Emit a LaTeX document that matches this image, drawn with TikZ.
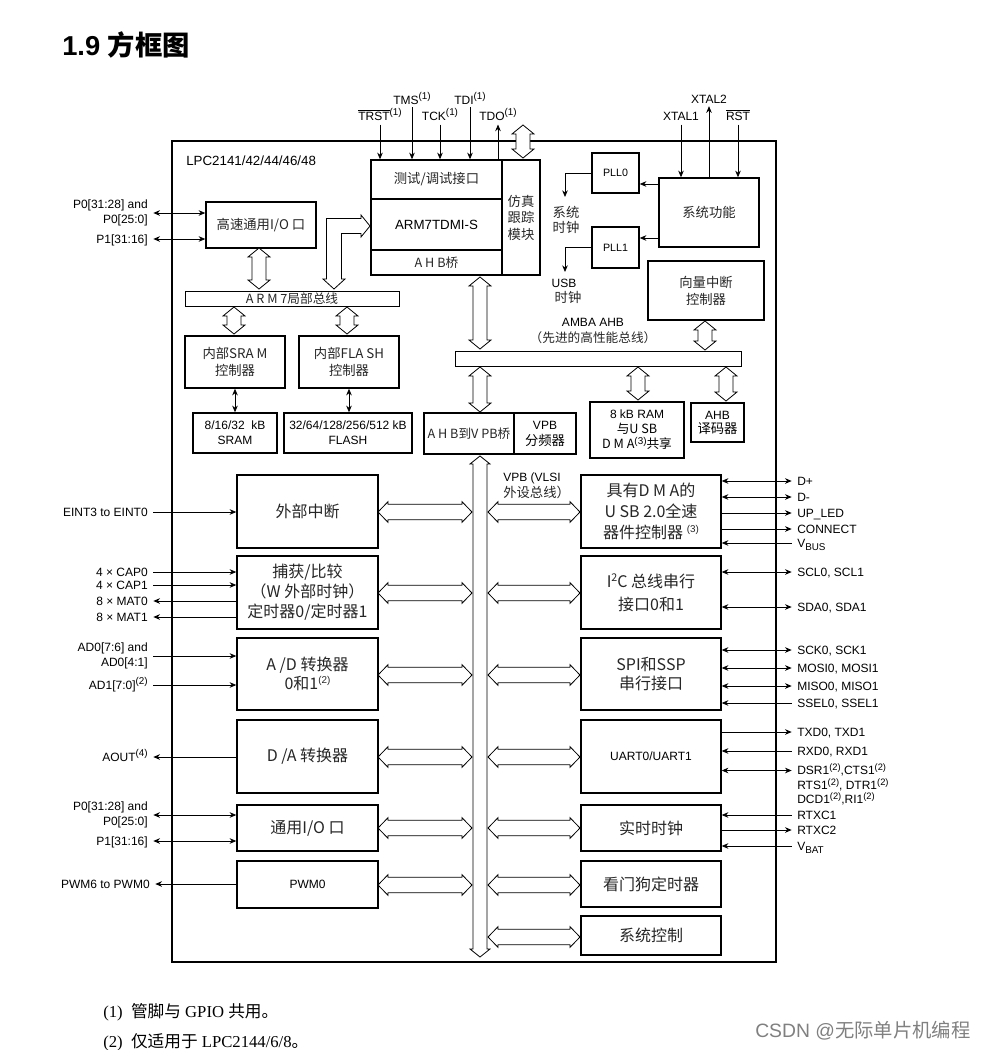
\documentclass[tikz,border=0pt]{standalone}
\usepackage{fontspec}
\setmainfont{Liberation Sans}
\newfontfamily\cjk{Noto Sans CJK SC}
\newfontfamily\tms{Liberation Serif}
\usetikzlibrary{arrows.meta,fit}
\newcommand\cjs{\cjk\fontsize{10}{12.5}\selectfont}
\newcommand\cjsm{\cjk\fontsize{9.5}{11.25}\selectfont}
\newcommand\sps[1]{\raisebox{0.4em}{\normalfont\fontsize{7.4}{7.5}\selectfont #1}}
\newcommand\spt[1]{\raisebox{0.33em}{\normalfont\fontsize{7}{7}\selectfont #1}}
\newcommand\sbs[1]{\raisebox{-0.28em}{\normalfont\fontsize{7.4}{7.5}\selectfont #1}}
\newcommand\VArr[3]{\draw[hol] (#1,#2) -- (#1+11,#2+9) -- (#1+7,#2+9) -- (#1+7,#3-9) -- (#1+11,#3-9) -- (#1,#3) -- (#1-11,#3-9) -- (#1-7,#3-9) -- (#1-7,#2+9) -- (#1-11,#2+9) -- cycle;}
\newcommand\HArr[3]{\draw[hol] (#1,#3) -- (#1+10,#3-10.3) -- (#1+10,#3-7.8) -- (#2-10,#3-7.8) -- (#2-10,#3-10.3) -- (#2,#3) -- (#2-10,#3+10.3) -- (#2-10,#3+7.8) -- (#1+10,#3+7.8) -- (#1+10,#3+10.3) -- cycle;}
% block: name, fit points, text style, text
\newcommand\blk[4]{\node[bx, fit={#2}] (#1) {}; \node[#3, inner sep=0pt, align=center] (#1t) at (#1.center) {#4};}
\begin{document}
\begin{tikzpicture}[x=0.75pt,y=-0.75pt,
 bx/.style={draw, line width=1.1pt, inner sep=0pt},
 la/.style={font=\fontsize{9}{11}\selectfont, inner sep=0pt, text height=6.4pt, text depth=0pt},
 lb/.style={font=\fontsize{9}{11.5}\selectfont, inner sep=0pt, align=right},
 sa/.style={font=\fontsize{9}{11.5}\selectfont},
 cs/.style={font=\cjs, text=black!85},
 cb/.style={font=\cjk\fontsize{12}{15}\selectfont, text=black!85},
 ar/.style={-{Stealth[length=5pt,width=4.2pt]}, line width=0.6pt},
 da/.style={{Stealth[length=5pt,width=4.2pt]}-{Stealth[length=5pt,width=4.2pt]}, line width=0.6pt},
 hol/.style={draw, fill=white, line width=0.6pt}]
\useasboundingbox (0,0) rectangle (981,1050);

% title
\node[anchor=west, inner sep=0pt, font=\bfseries\fontsize{20.5}{24}\selectfont] (title) at (62,45) {1.9 {\cjk\bfseries 方框图}};

% chip outline
\node[draw, line width=1.5pt, inner sep=0pt, fit={(172,141)(776,962)}] (chip) {};
\node[la, anchor=west, font=\fontsize{10}{12}\selectfont] (lpc) at (186,161) {LPC2141/42/44/46/48};

% ARM core block
\blk{dbg}{(371,160)(502,199)}{cs}{测试/调试接口}
\blk{arm}{(371,199)(502,250)}{font=\fontsize{10}{12}\selectfont}{ARM7TDMI-S}
\blk{ahbb}{(371,250)(502,275)}{cs, font=\cjk\fontsize{9.5}{11}\selectfont}{A H B桥}
\blk{etm}{(502,160)(540,275)}{cs, font=\cjk\fontsize{10}{12.4}\selectfont}{仿真\\跟踪\\模块}

% JTAG pins
\node[la] (trst) at (380,116) {\ensuremath{\overline{\hbox{TRST}}}\sps{(1)}};
\node[la] (tms) at (412,100) {TMS\sps{(1)}};
\node[la] (tck) at (440,116) {TCK\sps{(1)}};
\node[la] (tdi) at (470,100) {TDI\sps{(1)}};
\node[la] (tdo) at (498,116) {TDO\sps{(1)}};
\draw[ar] ([yshift=-3pt]trst.south) -- (trst.south |- dbg.north);
\draw[ar] ([yshift=-2pt]tms.south) -- (tms.south |- dbg.north);
\draw[ar] ([yshift=-3pt]tck.south) -- (tck.south |- dbg.north);
\draw[ar] ([yshift=-2pt]tdi.south) -- (tdi.south |- dbg.north);
\draw[ar] (tdo.south |- dbg.north) -- ([yshift=-3pt]tdo.south);
\VArr{523}{125}{158}

% PLL / system functions
\blk{pll0}{(592,153)(639,193)}{font=\fontsize{8}{10}\selectfont}{PLL0}
\blk{pll1}{(592,227)(639,268)}{font=\fontsize{8}{10}\selectfont}{PLL1}
\blk{sysf}{(659,178)(759,247)}{cs}{系统功能}
\coordinate (h0) at (0,184);
\coordinate (h1) at (0,238);
\draw[ar] (h0 -| sysf.west) -- (h0 -| pll0.east);
\draw[ar] (h1 -| sysf.west) -- (h1 -| pll1.east);
\coordinate (sc) at (565,197);
\coordinate (uc) at (565,272);
\draw[ar] (pll0.west) -| (sc);
\draw[ar] (pll1.west) -| (uc);
\node[cs, inner sep=0pt, align=center, font=\cjk\fontsize{10}{11.25}\selectfont] (sclk) at (566,219.5) {系统\\时钟};
\node[la] (usbl) at (564,283) {USB};
\node[cs, inner sep=0pt] (uclk) at (568,297) {时钟};
\node[la] (x1) at (681,116) {XTAL1};
\node[la] (x2) at (709,99) {XTAL2};
\node[la] (rst) at (738,116) {\ensuremath{\overline{\hbox{RST}}}};
\draw[ar] ([yshift=-3pt]x1.south) -- (x1.south |- sysf.north);
\draw[ar] (x2.south |- sysf.north) -- ([yshift=-2pt]x2.south);
\draw[ar] ([yshift=-3pt]rst.south) -- (rst.south |- sysf.north);

% vectored interrupt controller
\blk{vic}{(648,261)(764,320)}{cs, font=\cjk\fontsize{10}{12.75}\selectfont}{向量中断\\控制器}
\VArr{705}{321}{350}

% AMBA bus
\node[draw, line width=0.7pt, inner sep=0pt, fit={(455,351)(741,366)}] (amba) {};
\node[la] (ambal) at (593,322) {AMBA AHB};
\node[cs, inner sep=0pt, font=\cjk\fontsize{9.5}{11}\selectfont] (ambal2) at (593,338) {（先进的高性能总线）};
\VArr{480}{277}{349}
\VArr{480}{367}{412}
\VArr{638}{367}{400}
\VArr{726}{367}{401}

\blk{ahb2vpb}{(424,413)(514,454)}{cs, font=\cjk\fontsize{9.5}{11}\selectfont}{A H B到V PB桥}
\blk{vpbdiv}{(514,413)(576,454)}{font=\fontsize{9}{12}\selectfont}{VPB\\{\cjk\fontsize{10}{12}\selectfont 分频器}}
\blk{ram8}{(590,402)(684,458)}{font=\fontsize{9}{11.25}\selectfont}{8 kB RAM\\{\cjsm 与U SB}\\{\cjsm D M A}\sps{(3)}{\cjsm 共享}}
\blk{ahbdec}{(691,403)(744,442)}{font=\fontsize{9}{10.5}\selectfont}{AHB\\{\cjk\fontsize{10}{10.5}\selectfont 译码器}}

% local bus side
\blk{hsio}{(206,202)(316,248)}{cs}{高速通用I/O 口}
\node[lb, anchor=east] (hp0) at (148,213) {P0[31:28] and\\P0[25:0]};
\node[la, anchor=east] (hp1) at (148,239) {P1[31:16]};
\draw[da] ([xshift=4pt]hp0.east) -- (hp0.east -| hsio.west);
\draw[da] ([xshift=4pt]hp1.east) -- (hp1.east -| hsio.west);

\node[draw, line width=0.7pt, inner sep=0pt, fit={(185,291)(399,306)}] (bar7) {};
\node[cs, inner sep=0pt, font=\cjk\fontsize{9.5}{11}\selectfont] (bar7t) at (bar7.center) {A R M 7局部总线};
\VArr{259}{248}{289}
\draw[hol] (334,289) -- (345,279) -- (341.5,279) -- (341.5,233.5) -- (361,233.5) -- (361,237) -- (370,226) -- (361,215) -- (361,218.5) -- (326.5,218.5) -- (326.5,279) -- (323,279) -- cycle;
\VArr{234}{307}{334}
\VArr{347}{307}{334}
\blk{sramc}{(185,336)(285,388)}{cs, font=\cjk\fontsize{10}{12.5}\selectfont}{内部SRA M\\控制器}
\blk{flashc}{(299,336)(399,388)}{cs, font=\cjk\fontsize{10}{12.5}\selectfont}{内部FLA SH\\控制器}
\blk{sram}{(193,413)(277,453)}{sa}{8/16/32\ \ kB\\SRAM}
\blk{flash}{(284,413)(412,453)}{sa}{32/64/128/256/512 kB\\FLASH}
\draw[da] (sramc.south) -- (sramc.south |- sram.north);
\draw[da] (flashc.south) -- (flashc.south |- flash.north);

% VPB bus
\draw[hol] (480,456) -- (490,464) -- (487,464) -- (487,949) -- (490,949) -- (480,957) -- (470,949) -- (473,949) -- (473,464) -- (470,464) -- cycle;
\node[la, anchor=west] (vpbl) at (503,477) {VPB (VLSI};
\node[cs, inner sep=0pt, anchor=west] (vpbl2) at (503,492) {外设总线）};

% left peripherals
\blk{eint}{(237,475)(378,548)}{cb}{外部中断}
\blk{cap}{(237,556)(378,629)}{cb, font=\cjk\fontsize{12}{15}\selectfont}{捕获/比较\\（W 外部时钟）\\定时器0/定时器1}
\blk{adc}{(237,638)(378,710)}{cb, font=\cjk\fontsize{12}{14.5}\selectfont}{A /D 转换器\\0和1\sps{(2)}}
\blk{dac}{(237,720)(378,793)}{cb}{D /A 转换器}
\blk{gpio}{(237,805)(378,851)}{cb}{通用I/O 口}
\blk{pwm}{(237,861)(378,908)}{font=\fontsize{9}{11}\selectfont}{PWM0}
\HArr{378}{472}{512}
\HArr{378}{472}{593}
\HArr{378}{472}{675}
\HArr{378}{472}{757}
\HArr{378}{472}{828}
\HArr{378}{472}{885}

% right peripherals
\blk{usb}{(581,475)(721,548)}{cb, font=\cjk\fontsize{12}{15.75}\selectfont}{具有D M A的\\U SB 2.0全速\\器件控制器 \sps{(3)}}
\blk{i2c}{(581,556)(721,629)}{cb, font=\cjk\fontsize{12}{17}\selectfont}{I\raisebox{0.4em}{\fontsize{8}{8}\selectfont 2}C 总线串行\\接口0和1}
\blk{spi}{(581,638)(721,710)}{cb, font=\cjk\fontsize{12}{14.5}\selectfont}{SPI和SSP\\串行接口}
\blk{uart}{(581,720)(721,793)}{font=\fontsize{9}{11}\selectfont}{UART0/UART1}
\blk{rtc}{(581,805)(721,851)}{cb}{实时时钟}
\blk{wdt}{(581,861)(721,907)}{cb}{看门狗定时器}
\blk{sysc}{(581,916)(721,955)}{cb}{系统控制}
\HArr{488}{580}{512}
\HArr{488}{580}{593}
\HArr{488}{580}{675}
\HArr{488}{580}{757}
\HArr{488}{580}{828}
\HArr{488}{580}{885}
\HArr{488}{580}{937}

% left pins
\node[la, anchor=east] (eintp) at (148,512) {EINT3 to EINT0};
\draw[ar] ([xshift=4pt]eintp.east) -- (eintp.east -| eint.west);
\node[la, anchor=east] (cap0) at (148,572) {4 × CAP0};
\node[la, anchor=east] (cap1) at (148,585) {4 × CAP1};
\node[la, anchor=east] (mat0) at (148,601) {8 × MAT0};
\node[la, anchor=east] (mat1) at (148,617) {8 × MAT1};
\draw[ar] ([xshift=4pt]cap0.east) -- (cap0.east -| cap.west);
\draw[ar] ([xshift=4pt]cap1.east) -- (cap1.east -| cap.west);
\draw[ar] (mat0.east -| cap.west) -- ([xshift=4pt]mat0.east);
\draw[ar] (mat1.east -| cap.west) -- ([xshift=4pt]mat1.east);
\node[lb, anchor=east] (ad0) at (148,656) {AD0[7:6] and\\AD0[4:1]};
\node[la, anchor=east] (ad1) at (148,685) {AD1[7:0]\sps{(2)}};
\draw[ar] ([xshift=4pt]ad0.east) -- (ad0.east -| adc.west);
\draw[ar] ([xshift=4pt]ad1.east) -- (ad1.east -| adc.west);
\node[la, anchor=east] (aout) at (148,757) {AOUT\sps{(4)}};
\draw[ar] (aout.east -| dac.west) -- ([xshift=4pt]aout.east);
\node[lb, anchor=east] (gp0) at (148,815) {P0[31:28] and\\P0[25:0]};
\node[la, anchor=east] (gp1) at (148,841) {P1[31:16]};
\draw[da] ([xshift=4pt]gp0.east) -- (gp0.east -| gpio.west);
\draw[da] ([xshift=4pt]gp1.east) -- (gp1.east -| gpio.west);
\node[la, anchor=east] (pwmp) at (150,884) {PWM6 to PWM0};
\draw[ar] (pwmp.east -| pwm.west) -- ([xshift=4pt]pwmp.east);

% right pins
\node[la, anchor=west] (dp) at (797,481) {D+};
\node[la, anchor=west] (dm) at (797,497) {D-};
\node[la, anchor=west] (upled) at (797,513) {UP\_LED};
\node[la, anchor=west] (conn) at (797,529) {CONNECT};
\node[la, anchor=west] (vbus) at (797,543) {V\sbs{BUS}};
\draw[da] (dp.west -| usb.east) -- ([xshift=-4pt]dp.west);
\draw[da] (dm.west -| usb.east) -- ([xshift=-4pt]dm.west);
\draw[ar] (upled.west -| usb.east) -- ([xshift=-4pt]upled.west);
\draw[ar] (conn.west -| usb.east) -- ([xshift=-4pt]conn.west);
\draw[ar] ([xshift=-4pt]vbus.west) -- (vbus.west -| usb.east);
\node[la, anchor=west] (scl) at (797,572) {SCL0, SCL1};
\node[la, anchor=west] (sda) at (797,607) {SDA0, SDA1};
\draw[da] (scl.west -| i2c.east) -- ([xshift=-4pt]scl.west);
\draw[da] (sda.west -| i2c.east) -- ([xshift=-4pt]sda.west);
\node[la, anchor=west] (sck) at (797,650) {SCK0, SCK1};
\node[la, anchor=west] (mosi) at (797,668) {MOSI0, MOSI1};
\node[la, anchor=west] (miso) at (797,686) {MISO0, MISO1};
\node[la, anchor=west] (ssel) at (797,703) {SSEL0, SSEL1};
\draw[da] (sck.west -| spi.east) -- ([xshift=-4pt]sck.west);
\draw[da] (mosi.west -| spi.east) -- ([xshift=-4pt]mosi.west);
\draw[da] (miso.west -| spi.east) -- ([xshift=-4pt]miso.west);
\draw[ar] ([xshift=-4pt]ssel.west) -- (ssel.west -| spi.east);
\node[la, anchor=west] (txd) at (797,732) {TXD0, TXD1};
\node[la, anchor=west] (rxd) at (797,751) {RXD0, RXD1};
\node[la, anchor=west] (dsr) at (797,770.5) {DSR1\spt{(2)},CTS1\spt{(2)}};
\node[la, anchor=west] (rts) at (797,785) {RTS1\spt{(2)}, DTR1\spt{(2)}};
\node[la, anchor=west] (dcd) at (797,799.5) {DCD1\spt{(2)},RI1\spt{(2)}};
\draw[ar] (txd.west -| uart.east) -- ([xshift=-4pt]txd.west);
\draw[ar] ([xshift=-4pt]rxd.west) -- (rxd.west -| uart.east);
\draw[da] (dsr.west -| uart.east) -- ([xshift=-4pt]dsr.west);
\node[la, anchor=west] (rtxc1) at (797,815) {RTXC1};
\node[la, anchor=west] (rtxc2) at (797,830) {RTXC2};
\node[la, anchor=west] (vbat) at (797,846) {V\sbs{BAT}};
\draw[ar] ([xshift=-4pt]rtxc1.west) -- (rtxc1.west -| rtc.east);
\draw[ar] (rtxc2.west -| rtc.east) -- ([xshift=-4pt]rtxc2.west);
\draw[ar] ([xshift=-4pt]vbat.west) -- (vbat.west -| rtc.east);

% footnotes
\node[anchor=west, inner sep=0pt, font=\tms\fontsize{12.5}{15}\selectfont] (fn1) at (103,1012) {(1)\ \ {\cjk 管脚与} GPIO {\cjk 共用。}};
\node[anchor=west, inner sep=0pt, font=\tms\fontsize{12.5}{15}\selectfont] (fn2) at (103,1042) {(2)\ \ {\cjk 仅适用于} LPC2144/6/8{\cjk 。}};
\node[anchor=west, inner sep=0pt, text=black!50, font=\fontsize{14.5}{16}\selectfont] (wm) at (755,1031) {CSDN @{\cjk 无际单片机编程}};
\end{tikzpicture}
\end{document}
